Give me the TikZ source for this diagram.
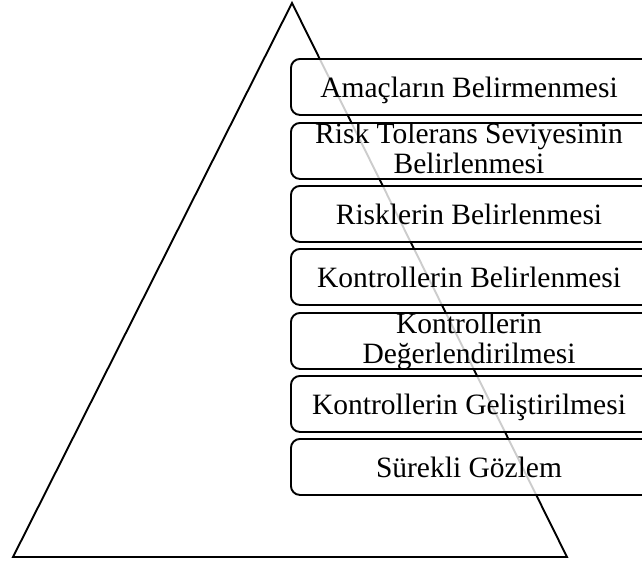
\documentclass[tikz,border=0pt]{standalone}
\usepackage{fontspec}
\setmainfont{Liberation Serif}
\begin{document}
\begin{tikzpicture}[x=1pt,y=-1pt,
  stage/.style={draw=black, line width=1.9pt, rounded corners=9pt,
    fill=white, fill opacity=0.8, minimum width=380pt, minimum height=56pt,
    anchor=north west, inner sep=0pt},
  txt/.style={font=\fontsize{29.5pt}{30pt}\selectfont, align=center,
    inner sep=0pt, anchor=base, text=black}]
\clip (0,0) rectangle (642,563);
% pyramid outline
\coordinate (apex) at (292,3);
\coordinate (bl) at (13,557);
\coordinate (br) at (567,557);
\draw[line width=1.9pt, line join=miter] (apex) -- (br) -- (bl) -- cycle;
% stage boxes
\node[stage] (b1) at (290,58) {};
\node[stage] (b2) at (290,122) {};
\node[stage] (b3) at (290,185) {};
\node[stage] (b4) at (290,248) {};
\node[stage] (b5) at (290,312) {};
\node[stage] (b6) at (290,375) {};
\node[stage] (b7) at (290,438) {};
% labels (a two-line label sits on the baseline of its last line)
\node[txt] (t1) at (469,97) {Amaçların Belirmenmesi};
\node[txt] (t2) at (469,173) {Risk Tolerans Seviyesinin\\Belirlenmesi};
\node[txt] (t3) at (469,224) {Risklerin Belirlenmesi};
\node[txt] (t4) at (469,287) {Kontrollerin Belirlenmesi};
\node[txt] (t5) at (469,363) {Kontrollerin\\Değerlendirilmesi};
\node[txt] (t6) at (469,414) {Kontrollerin Geliştirilmesi};
\node[txt] (t7) at (469,477) {Sürekli Gözlem};
\end{tikzpicture}
\end{document}
